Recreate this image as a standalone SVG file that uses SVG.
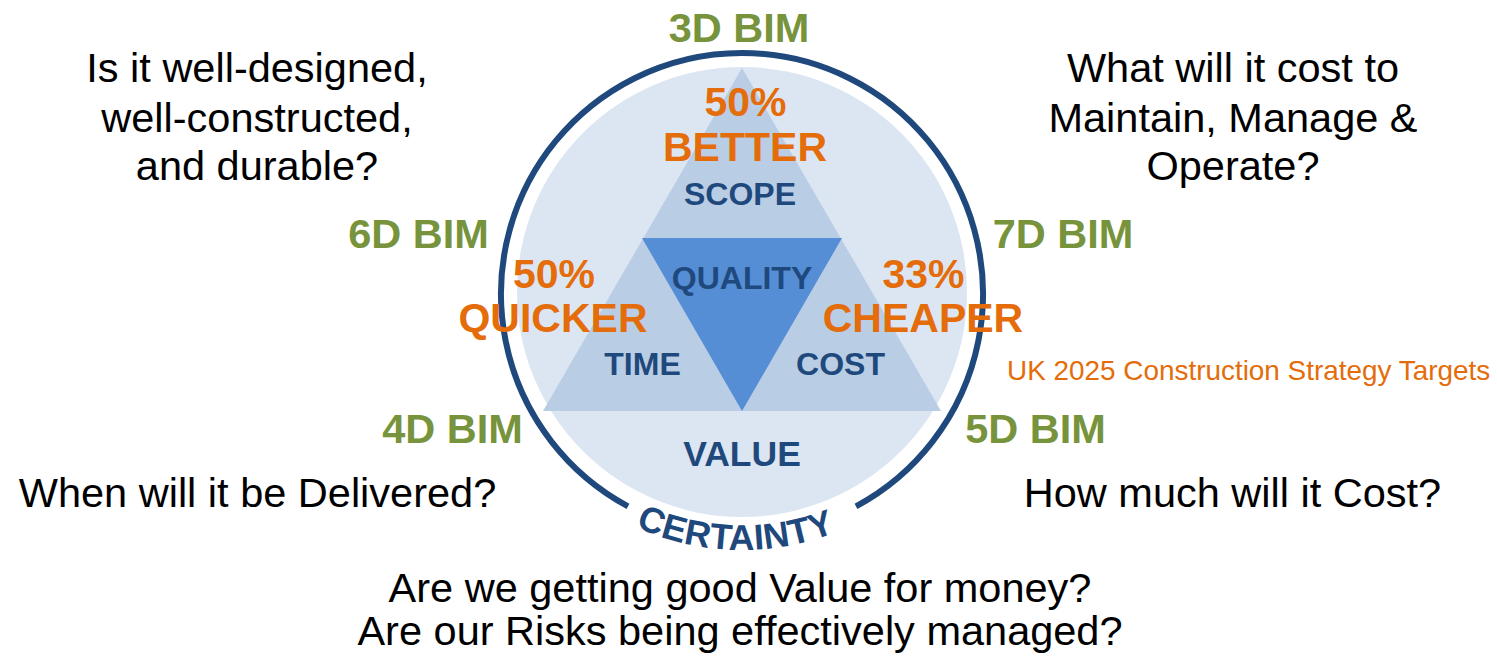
<svg xmlns="http://www.w3.org/2000/svg" width="1497" height="656" viewBox="0 0 1497 656">
  <defs>
    <style>
      text { font-family: "Liberation Sans", Arial, sans-serif; text-anchor: middle; }
      .q { font-size: 41.5px; fill: #000000; }
      .bim { font-size: 41.5px; font-weight: bold; fill: #77933c; }
      .tgt { font-size: 41px; font-weight: bold; fill: #e46c0a; }
      .lbl { font-size: 32px; font-weight: bold; fill: #1f497d; }
      .big { font-size: 35.5px; }
      .ring { fill: none; stroke: #1f497d; stroke-width: 6; }
    </style>
    <path id="certPath" d="M 486,294 A 256 256 0 0 0 998,294" fill="none"/>
  </defs>

  <rect width="1497" height="656" fill="#ffffff"/>

  <g id="wheel">
    <circle cx="742" cy="292" r="225" fill="#dce6f2"/>
    <path class="ring" d="M 628,506.3 A 241 241 0 1 1 856,506.3"/>
    <text font-size="36" font-weight="bold" fill="#1f497d" letter-spacing="0.3"><textPath href="#certPath" startOffset="395">CERTAINTY</textPath></text>
  </g>

  <g id="triangle-outer">
    <polygon points="742,68 543,411 941,411" fill="#b9cde5"/>
  </g>
  <g id="triangle-quality">
    <polygon points="642,238 842,238 742,411" fill="#558ed5"/>
    <text class="lbl" x="742" y="289">QUALITY</text>
  </g>
  <g id="scope">
    <text class="lbl" x="740" y="205">SCOPE</text>
  </g>
  <g id="time">
    <text class="lbl" x="642.5" y="375">TIME</text>
  </g>
  <g id="cost">
    <text class="lbl" x="840.5" y="375">COST</text>
  </g>
  <g id="value">
    <text class="lbl big" x="742" y="466">VALUE</text>
  </g>

  <g id="target-better">
    <text class="tgt" x="745.5" y="116">50%</text>
    <text class="tgt" x="745" y="161">BETTER</text>
  </g>
  <g id="target-quicker">
    <text class="tgt" x="554" y="288">50%</text>
    <text class="tgt" x="553" y="332">QUICKER</text>
  </g>
  <g id="target-cheaper">
    <text class="tgt" x="923.5" y="288">33%</text>
    <text class="tgt" x="923" y="332">CHEAPER</text>
  </g>
  <g id="uk-targets">
    <text x="1007" y="380" font-size="27.9" fill="#e46c0a" style="text-anchor:start">UK 2025 Construction Strategy Targets</text>
  </g>

  <g id="bim-3d"><text class="bim" x="739" y="42">3D BIM</text></g>
  <g id="bim-6d"><text class="bim" x="418.5" y="248">6D BIM</text></g>
  <g id="bim-7d"><text class="bim" x="1063" y="248">7D BIM</text></g>
  <g id="bim-4d"><text class="bim" x="452.5" y="443">4D BIM</text></g>
  <g id="bim-5d"><text class="bim" x="1035.5" y="443">5D BIM</text></g>

  <g id="q-design">
    <text class="q" x="257" y="82">Is it well-designed,</text>
    <text class="q" x="257" y="132">well-constructed,</text>
    <text class="q" x="257" y="180">and durable?</text>
  </g>
  <g id="q-operate">
    <text class="q" x="1233" y="82">What will it cost to</text>
    <text class="q" x="1233" y="132">Maintain, Manage &amp;</text>
    <text class="q" x="1233" y="180">Operate?</text>
  </g>
  <g id="q-delivered">
    <text class="q" x="257.5" y="507">When will it be Delivered?</text>
  </g>
  <g id="q-cost">
    <text class="q" x="1232.5" y="507">How much will it Cost?</text>
  </g>
  <g id="q-value">
    <text class="q" x="740" y="602">Are we getting good Value for money?</text>
    <text class="q" x="740" y="645">Are our Risks being effectively managed?</text>
  </g>
</svg>
